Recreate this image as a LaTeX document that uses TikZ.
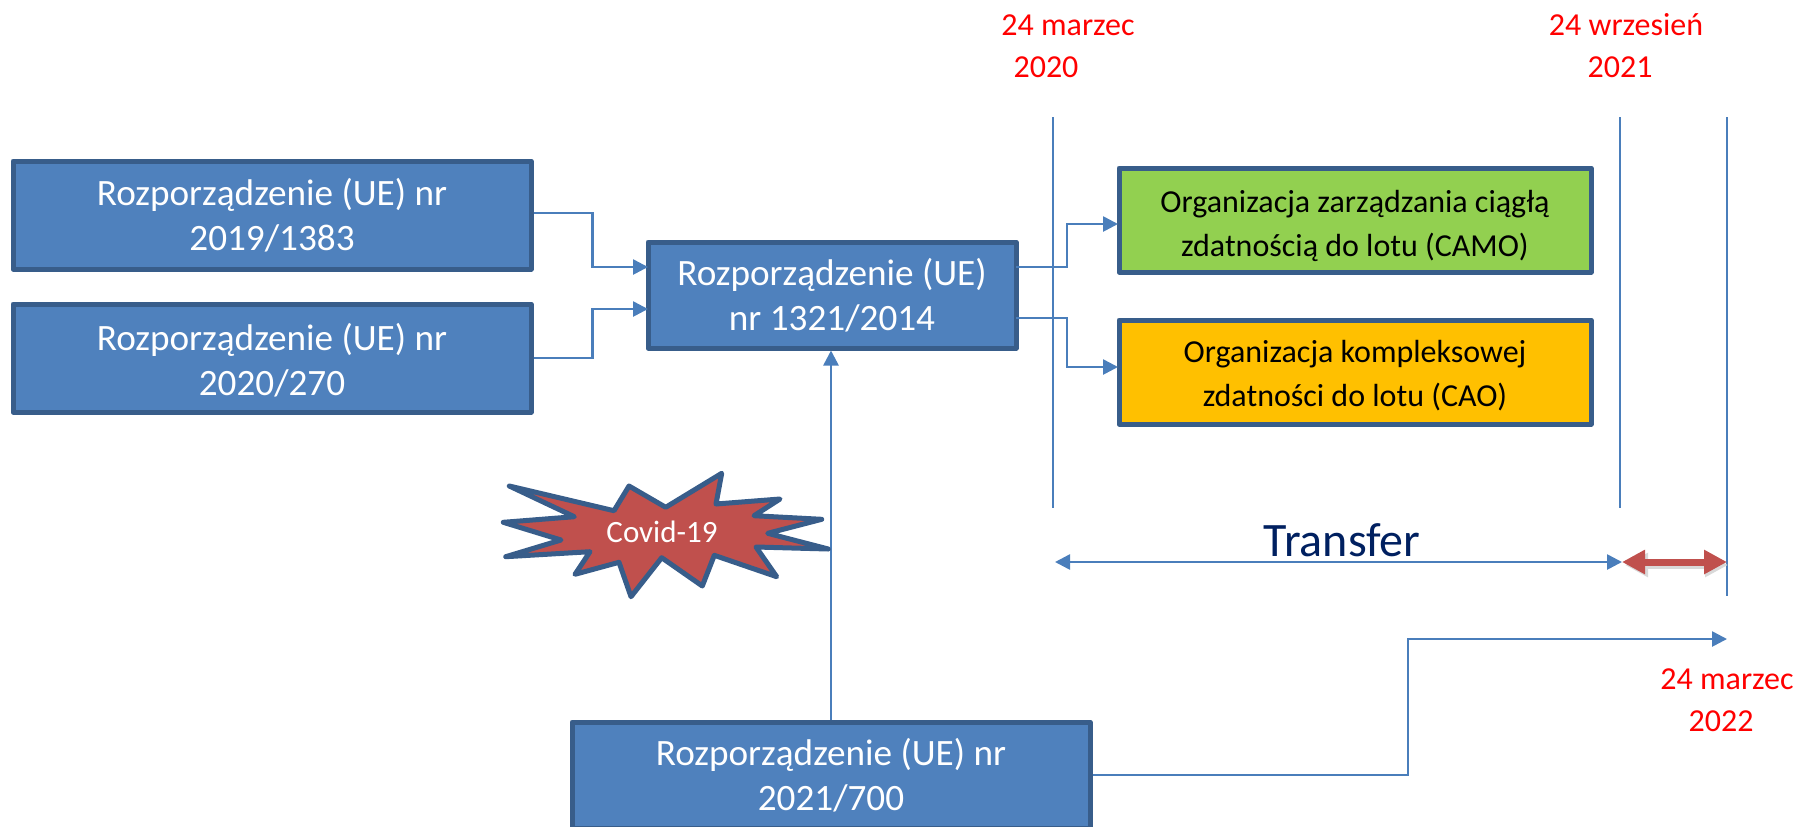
\documentclass[tikz,border=0pt]{standalone}
\usepackage{fontspec}
\setmainfont{Carlito}
\usepackage{tikz}
\usetikzlibrary{calc,arrows.meta}
\definecolor{boxblue}{HTML}{4F81BD}
\definecolor{boxline}{HTML}{385D8A}
\definecolor{connblue}{HTML}{4A7EBB}
\definecolor{covidred}{HTML}{C0504D}
\definecolor{camogreen}{HTML}{92D050}
\definecolor{caoyellow}{HTML}{FFC000}
\definecolor{transfernavy}{HTML}{002060}
\tikzset{
    regbox/.style={draw=boxline, fill=boxblue, line width=2.5pt, line join=round, text=white, align=center, font=\fontsize{18.6}{22.5}\selectfont, inner sep=0pt},
    orgbox/.style={draw=boxline, line width=2.5pt, line join=round, text=black, align=center, font=\fontsize{16}{22}\selectfont, inner sep=0pt, minimum width=236pt, minimum height=52pt},
    conn/.style={draw=connblue, line width=1.3pt, -{Triangle[length=7.5pt,width=7.5pt]}},
    timeline/.style={draw=connblue, line width=0.85pt},
    bothtips/.style={{Triangle[length=#1,width=#1]}-{Triangle[length=#1,width=#1]}},
    datelabel/.style={text=red, align=center, font=\fontsize{16}{21}\selectfont},
}
\begin{document}
\begin{tikzpicture}[x=0.5pt, y=-0.5pt]

    \useasboundingbox (0,0) rectangle (1799,826);
    \clip (0,0) rectangle (1799,826);

    \node[regbox, minimum width=259pt, minimum height=54pt] (regA) at (272,215) {Rozporządzenie (UE) nr\\2019/1383};
    \node[regbox, minimum width=259pt, minimum height=54pt] (regB) at (272,358) {\rule{0pt}{16pt}Rozporządzenie (UE) nr\\2020/270};
    \node[regbox, minimum width=184pt, minimum height=53pt] (regC) at (832,295) {Rozporządzenie (UE)\\nr 1321/2014};
    \node[regbox, minimum width=259pt, minimum height=53pt] (regD) at (831,775) {Rozporządzenie (UE) nr\\2021/700};

    \node[orgbox, fill=camogreen] (camo) at (1355,220) {\rule{0pt}{17pt}Organizacja zarządzania ciągłą\\zdatnością do lotu (CAMO)};
    \node[orgbox, fill=caoyellow] (cao) at (1355,372) {\rule{0pt}{14.5pt}Organizacja kompleksowej\\zdatności do lotu (CAO)};

    \coordinate (inA) at (648,267);
    \coordinate (inB) at (648,309);
    \coordinate (outA) at (1016,267);
    \coordinate (outB) at (1016,318);
    \coordinate (inCamo) at (1118,224);
    \coordinate (inCao) at (1118,367);

    \draw[conn] ([yshift=1pt]regA.east) -- ++(59,0) |- (inA);
    \draw[conn] (regB.east) -- ++(59,0) |- (inB);
    \draw[conn] (outA) -- (1067,267) |- (inCamo);
    \draw[conn] (outB) -- (1067,318) |- (inCao);
    \draw[conn] (regD.north) -- (regD.north |- regC.south);

    % vertical time lines
    \coordinate (markA) at (1053,117);
    \coordinate (markB) at (1620,117);
    \coordinate (markC) at (1727,117);
    \draw[timeline] (markA) -- ++(0,391);
    \draw[timeline] (markB) -- ++(0,391);
    \draw[timeline] (markC) -- ++(0,479);

    \coordinate (transA) at (1055,562);
    \coordinate (transB) at (1622,562);
    \coordinate (transC) at (1727,562);
    \draw[conn, bothtips=7.5pt] (transA) -- (transB);
    \draw[draw=black!15, line width=3.5pt, bothtips=11.5pt] ($(transB)+(3,3)$) -- ($(transC)+(1,3)$);
    \draw[draw=covidred, line width=3.5pt, bothtips=11.5pt] (transB) -- (transC);

    \node[text=transfernavy, font=\fontsize{24}{24}\selectfont] (transfer) at (1342,540) {Transfer};

    \coordinate (goal) at (1727,639);
    \draw[conn] (regD.east) -- (1408,775) |- (goal);

    % covid star
    \draw[draw=boxline, fill=covidred, line width=2.5pt, line join=round] (509.3,486) -- (614,510.7) -- (629,486) -- (665.7,507.3) -- (721.7,473.3) -- (716,504) -- (780,499) -- (754,515.7) -- (821.7,519.3) -- (767.7,533.3) -- (828.3,549) -- (756,547) -- (776.7,576.7) -- (714.3,555.3) -- (702.3,586) -- (661.7,557.7) -- (631,596.7) -- (619,562.3) -- (575,574.3) -- (590,551.7) -- (505.7,556.7) -- (561,540) -- (503.3,522.3) -- (574.3,516.7) -- cycle;
    \node[text=white, font=\fontsize{15.5}{18}\selectfont] (covid) at (662,532) {Covid-19};

    \node[datelabel] (dateA) at (1068,46) {24 marzec\\2020\hspace*{22pt}};
    \node[datelabel] (dateB) at (1626,46) {24 wrzesień\\2021\hspace*{6pt}};
    \node[datelabel] (dateC) at (1727,700) {24 marzec\\2022\hspace*{6pt}};

\end{tikzpicture}
\end{document}
